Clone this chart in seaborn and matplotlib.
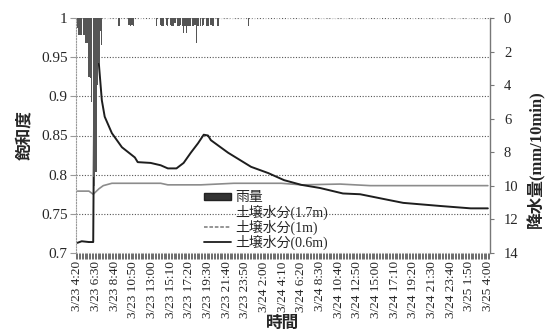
import matplotlib
matplotlib.use("Agg")
import matplotlib.pyplot as plt
import seaborn as sns
from matplotlib.patches import Patch
from matplotlib.lines import Line2D
from matplotlib.font_manager import FontProperties
from matplotlib.ticker import MultipleLocator

sns.set_style("white")
plt.rcParams["font.family"] = ["Liberation Serif", "Noto Sans CJK JP"]

# Time axis: 10-minute steps from 3/23 4:20 (step 0) to 3/25 4:00 (step 286)
time_labels = ["3/23 4:20", "3/23 6:30", "3/23 8:40", "3/23 10:50", "3/23 13:00",
               "3/23 15:10", "3/23 17:20", "3/23 19:30", "3/23 21:40", "3/23 23:50",
               "3/24 2:00", "3/24 4:10", "3/24 6:20", "3/24 8:30", "3/24 10:40",
               "3/24 12:50", "3/24 15:00", "3/24 17:10", "3/24 19:20", "3/24 21:30",
               "3/24 23:40", "3/25 1:50", "3/25 4:00"]
tick_steps = list(range(0, 287, 13))

# Rainfall per 10 minutes (mm)
rain_step = [0, 1, 2, 3, 4, 5, 6, 7, 8, 9, 10, 11, 12, 13, 14, 15, 16, 17,
             29, 36, 37, 38, 39,
             55, 58, 59, 60, 62, 63, 65, 66, 67, 68, 70, 71, 72, 73, 74, 75, 76,
             77, 78, 79, 80, 81, 82, 83, 84, 86, 87, 88, 90, 91, 93, 94, 95, 98, 119]
rain_mm = [0.6, 1.0, 1.0, 1.0, 1.0, 1.0, 1.5, 1.5, 3.5, 3.6, 5.0, 9.5, 10.0, 9.2, 4.0, 2.7, 0.8, 1.6,
           0.5, 0.4, 0.5, 0.4, 0.5,
           0.5, 0.4, 0.5, 0.5, 0.4, 0.5, 0.4, 0.5, 0.5, 0.3, 0.5, 0.5, 0.4, 0.5, 0.9, 0.5, 0.9,
           0.5, 0.5, 0.5, 0.5, 0.5, 0.4, 1.5, 0.5, 0.5, 0.5, 0.4, 0.5, 0.5, 0.4, 0.5, 0.5, 0.5, 0.5]

# Soil moisture saturation at 0.6 m depth
sat06_step = [0, 3, 8, 11, 12, 13, 15, 17, 19, 24, 31, 40, 42, 51, 58, 63, 69, 74, 79,
              84, 88, 91, 93, 105, 121, 133, 144, 156, 169, 185, 197, 216, 227, 253, 274, 286]
sat06 = [0.713, 0.715, 0.714, 0.714, 0.99, 0.99, 0.94, 0.895, 0.874, 0.853, 0.835, 0.822,
         0.816, 0.815, 0.812, 0.808, 0.808, 0.815, 0.828, 0.840, 0.851, 0.850, 0.844, 0.828,
         0.810, 0.802, 0.793, 0.787, 0.783, 0.776, 0.775, 0.768, 0.764, 0.760, 0.757, 0.757]

# Soil moisture saturation at 1 m depth
sat10_step = [0, 8, 11, 15, 18, 24, 58, 63, 86, 109, 142, 156, 183, 204, 286]
sat10 = [0.779, 0.779, 0.775, 0.782, 0.786, 0.789, 0.789, 0.787, 0.787, 0.789, 0.789,
         0.787, 0.788, 0.786, 0.786]

# Soil moisture saturation at 1.7 m depth (stays saturated)
sat17_step = [0, 286]
sat17 = [1.0, 1.0]

fig = plt.figure(figsize=(5.52, 3.36), dpi=100)
ax = fig.add_axes([76 / 552, 1 - 253 / 336, 414 / 552, 235 / 336])
ax2 = ax.twinx()

sns.lineplot(x=sat17_step, y=sat17, ax=ax, color="#eeeeee", lw=1.0, linestyle=":")
sns.lineplot(x=sat10_step, y=sat10, ax=ax, color="#8c8c8c", lw=1.2)
sns.lineplot(x=sat06_step, y=sat06, ax=ax, color="#1e1e1e", lw=1.4)

sns.barplot(x=rain_step, y=rain_mm, native_scale=True, ax=ax2, color="#555555",
            saturation=1, width=0.9, linewidth=0)

for a in (ax, ax2):
    a.set_xlim(-1, 287.5)
ax.set_ylim(0.7, 1.0)
ax2.set_ylim(14, 0)

# Axes, ticks and grid
ax.yaxis.grid(True, linestyle=(0, (1, 1.5)), color="#555555", lw=0.8)
ax.xaxis.grid(False)
ax.set_yticks([0.7, 0.75, 0.8, 0.85, 0.9, 0.95, 1.0],
              labels=["0.7", "0.75", "0.8", "0.85", "0.9", "0.95", "1"])
ax.tick_params(axis="y", length=4, color="#999999", labelsize=11, pad=2)
ax.set_xticks(tick_steps, labels=time_labels, rotation=90)
ax.xaxis.set_minor_locator(MultipleLocator(1))
ax.tick_params(axis="x", which="both", length=4, width=0.6, color="#555555",
               labelsize=9.5, pad=2, bottom=True)

ax2.set_yticks(range(0, 15, 2))
ax2.tick_params(axis="y", length=3, color="#777777", labelsize=10.5, pad=7)
ax2.set_xlabel("")

for s in ("top", "bottom", "right"):
    ax.spines[s].set_visible(False)
ax.spines["left"].set_linestyle((0, (1, 1.5)))
ax.spines["left"].set_color("#999999")
ax.spines["left"].set_linewidth(0.8)
for s in ("top", "bottom", "left"):
    ax2.spines[s].set_visible(False)
ax2.spines["right"].set_color("#777777")
ax2.spines["right"].set_linewidth(1.0)

cjk_bold = FontProperties(family=["Noto Sans CJK JP"], size=12, weight="bold")
mixed_bold = FontProperties(family=["Liberation Serif", "Noto Sans CJK JP"], size=12, weight="bold")
ax.set_ylabel("飽和度", fontproperties=cjk_bold, labelpad=6)
ax.set_xlabel("時間", fontproperties=cjk_bold, labelpad=-3)
ax2.set_ylabel("降水量(mm/10min)", fontproperties=mixed_bold, labelpad=6)
ax2.yaxis.set_label_coords(1.09, 0.4)

handles = [Patch(facecolor="#333333", edgecolor="#222222"),
           Line2D([], [], color="#ffffff", lw=1.0),
           Line2D([], [], color="#8c8c8c", lw=1.3, linestyle=(0, (2, 1))),
           Line2D([], [], color="#1e1e1e", lw=1.3)]
labels = ["雨量", "土壌水分(1.7m)", "土壌水分(1m)", "土壌水分(0.6m)"]
leg = ax2.legend(handles, labels, loc="upper left", bbox_to_anchor=(0.31, 0.262),
                 frameon=False, handlelength=1.95, handleheight=0.5, labelspacing=0.0,
                 handletextpad=0.25, borderaxespad=0, borderpad=0,
                 prop=FontProperties(family=["Liberation Serif", "Noto Sans CJK JP"], size=10))

fig.savefig("out.png", dpi=100, facecolor="white")
